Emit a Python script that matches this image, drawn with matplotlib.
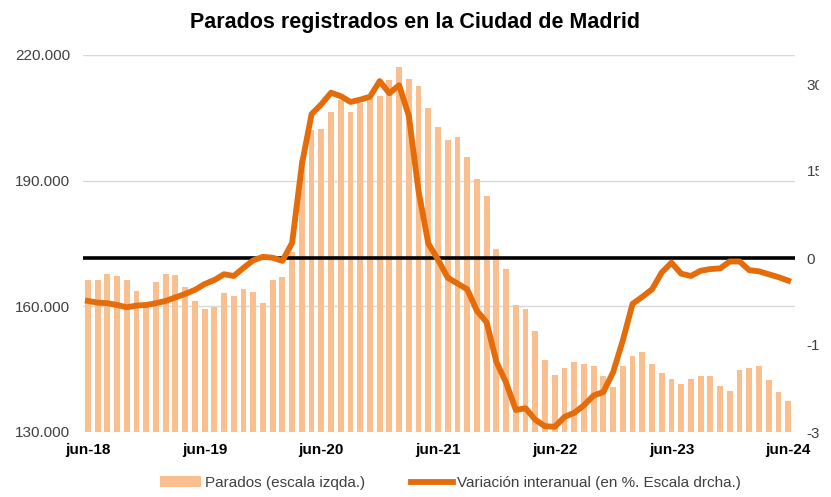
"""Parados registrados en la Ciudad de Madrid: barras (escala izqda.) y variacion interanual (escala drcha.)."""
import matplotlib
matplotlib.use("Agg")
import matplotlib.pyplot as plt
from matplotlib.patches import Rectangle
from matplotlib.ticker import FuncFormatter

plt.rcParams["font.family"] = ["Liberation Sans", "DejaVu Sans"]

BAR_COLOR = "#F9BF8F"
LINE_COLOR = "#E46C0A"
TEXT_GRAY = "#404040"

# monthly, jun-18 .. jun-24 (73 months)
parados = [
    166.3, 166.3, 167.8, 167.3, 166.3, 163.7, 161.0, 165.7, 167.8, 167.5,
    164.7, 161.3, 159.3, 159.9, 163.3, 162.5, 164.2, 163.5, 160.7, 166.3,
    166.9, 173.0, 195.0, 202.0, 202.4, 206.5, 209.2, 206.5, 208.6, 209.4,
    210.3, 214.0, 217.2, 214.2, 212.5, 207.3, 202.7, 199.7, 200.5, 195.6,
    190.3, 186.4, 173.6, 168.8, 160.3, 159.3, 154.2, 147.2, 143.6, 145.2,
    146.6, 146.2, 145.8, 143.4, 140.7, 145.8, 148.1, 149.1, 146.2, 144.2,
    142.6, 141.4, 142.6, 143.4, 143.4, 141.1, 139.9, 144.8, 145.3, 145.8,
    142.3, 139.5, 137.3,
]
parados = [v * 1000 for v in parados]

variacion = [
    -7.4, -7.7, -7.8, -8.1, -8.5, -8.2, -8.1, -7.8, -7.4, -6.8,
    -6.2, -5.5, -4.5, -3.8, -2.8, -3.1, -1.7, -0.4, 0.2, 0.05,
    -0.5, 2.6, 16.1, 24.8, 26.5, 28.5, 27.9, 26.9, 27.3, 27.8,
    30.5, 28.4, 29.8, 24.5, 11.5, 2.5, -0.3, -3.4, -4.4, -5.4,
    -9.1, -11.1, -17.9, -21.5, -26.2, -25.9, -27.9, -29.0, -29.1, -27.4,
    -26.7, -25.4, -23.7, -23.1, -19.7, -14.2, -7.9, -6.7, -5.4, -2.5,
    -0.8, -2.7, -3.1, -2.2, -1.9, -1.8, -0.6, -0.6, -2.1, -2.3,
    -2.8, -3.3, -3.9,
]

tick_pos = [0, 12, 24, 36, 48, 60, 72]
tick_labels = ["jun-18", "jun-19", "jun-20", "jun-21", "jun-22", "jun-23", "jun-24"]

x = list(range(len(parados)))

fig = plt.figure(figsize=(8.31, 4.97), dpi=100)
ax = fig.add_axes([83 / 831, 1 - 432 / 497, (795 - 83) / 831, (432 - 55) / 497])
ax2 = ax.twinx()

bars = ax.bar(x, parados, width=0.6, color=BAR_COLOR, zorder=2,
              label="Parados (escala izqda.)")
ax.set_ylim(130000, 220000)
ax.set_yticks([130000, 160000, 190000, 220000])
ax.yaxis.set_major_formatter(FuncFormatter(lambda v, p: f"{int(v):,}".replace(",", ".")))
ax.grid(axis="y", color="#D9D9D9", lw=1, zorder=0)
ax.set_axisbelow(True)
ax.set_xlim(-0.5, 72.7)
ax.set_xticks(tick_pos)
ax.set_xticklabels(tick_labels, fontweight="bold", fontsize=11)
ax.tick_params(axis="x", length=0, pad=8)
ax.tick_params(axis="y", length=0, labelsize=11, labelcolor=TEXT_GRAY, pad=9.4)

ax2.set_ylim(-30, 35)
ax2.set_yticks([-30, -15, 0, 15, 30])
ax2.yaxis.set_major_formatter(FuncFormatter(lambda v, p: f"{int(v)}"))
ax2.tick_params(axis="y", length=0, labelsize=11, labelcolor=TEXT_GRAY, pad=8.4)
ax2.axhline(0, color="black", lw=2.6, zorder=2)
line, = ax2.plot(x, variacion, color=LINE_COLOR, lw=4.2, zorder=3,
                 solid_joinstyle="round", label="Variación interanual (en %. Escala drcha.)")

for a in (ax, ax2):
    for s in a.spines.values():
        s.set_visible(False)

fig.suptitle("Parados registrados en la Ciudad de Madrid", x=0.5, y=0.975,
             fontsize=15.5, fontweight="bold")

fig.legend(handles=[bars, line], loc="center", bbox_to_anchor=(0.542, 0.028), ncol=2,
           frameon=False, fontsize=11, labelcolor=TEXT_GRAY, handlelength=2.7,
           handletextpad=0.3, columnspacing=3.0)

# the source picture is cut off at the right edge
fig.patches.append(Rectangle((819 / 831, 0), 1, 1, transform=fig.transFigure,
                             color="white", zorder=10))

fig.savefig("out.png", dpi=100)
